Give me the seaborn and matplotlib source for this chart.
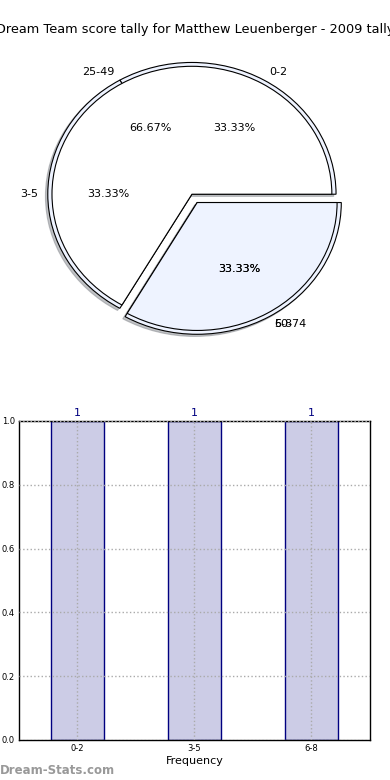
import matplotlib
matplotlib.use("Agg")
import matplotlib.pyplot as plt
import seaborn as sns

# pie data (two pies drawn on the same axes)
ranges_a = ['0-2', '3-5', '6-8']
tally_a = [1, 1, 1]
ranges_b = ['25-49', '50-74']
tally_b = [2, 1]

# bar data
bar_cats = ['0-2', '3-5', '6-8']
bar_vals = [1, 1, 1]

sns.set_style('white')
plt.rcParams['font.family'] = ['DejaVu Sans']
plt.rcParams['text.color'] = 'black'
plt.rcParams['xtick.color'] = 'black'
plt.rcParams['ytick.color'] = 'black'
plt.rcParams['axes.labelcolor'] = 'black'

fig = plt.figure(figsize=(3.9, 7.8), dpi=100)
fig.text(0.5, 1 - 30 / 780, 'Dream Team score tally for Matthew Leuenberger - 2009 tally',
         ha='center', va='center', fontsize=9.3)

ax1 = fig.add_axes([0.0436, 0.546, 0.897, 0.410])
light = '#eef3ff'
r1 = 1.03
ax1.pie(tally_a, labels=ranges_a, autopct='%.2f%%', startangle=0, radius=r1,
        labeldistance=1.1 / r1, pctdistance=0.6 / r1,
        explode=(0, 0, 0.075), shadow=dict(ox=-0.012, oy=-0.012, shade=0.45),
        colors=[light, light, light],
        wedgeprops=dict(edgecolor='black', linewidth=0.8),
        textprops=dict(fontsize=8, color='black'))
ax1.pie(tally_b, labels=ranges_b, autopct='%.2f%%', startangle=0, radius=1.0,
        explode=(0, 0.075), colors=['white', light],
        wedgeprops=dict(edgecolor='black', linewidth=0.8),
        textprops=dict(fontsize=8, color='black'))
ax1.set_aspect('auto')
ax1.set_xlim(-1.25, 1.25)
ax1.set_ylim(-1.25, 1.25)

ax2 = fig.add_axes([0.0487, 0.0513, 0.9, 0.409])
sns.barplot(x=bar_cats, y=bar_vals, ax=ax2, width=0.45, color='#cccce6',
            saturation=1, edgecolor='navy', linewidth=1)
ax2.set_xlim(-0.5, 2.5)
ax2.set_ylim(0, 1.0)
ax2.set_yticks([0.0, 0.2, 0.4, 0.6, 0.8, 1.0])
ax2.set_yticklabels(['0.0', '0.2', '0.4', '0.6', '0.8', '1.0'])
ax2.tick_params(labelsize=6, length=0, pad=3)
ax2.grid(True, linestyle=':', color='#aaaaaa', linewidth=1)
ax2.set_axisbelow(False)
for s in ax2.spines.values():
    s.set_color('black')
    s.set_linewidth(1)
ax2.set_xlabel('Frequency', fontsize=8, labelpad=2)
ax2.bar_label(ax2.containers[0], labels=[str(v) for v in bar_vals],
              color='navy', fontsize=8, padding=2)

fig.text(0.0, 1 - 771 / 780, 'Dream-Stats.com', ha='left', va='center',
         fontsize=8.5, color='#999999', fontweight='bold')

fig.savefig('out.png', dpi=100)
